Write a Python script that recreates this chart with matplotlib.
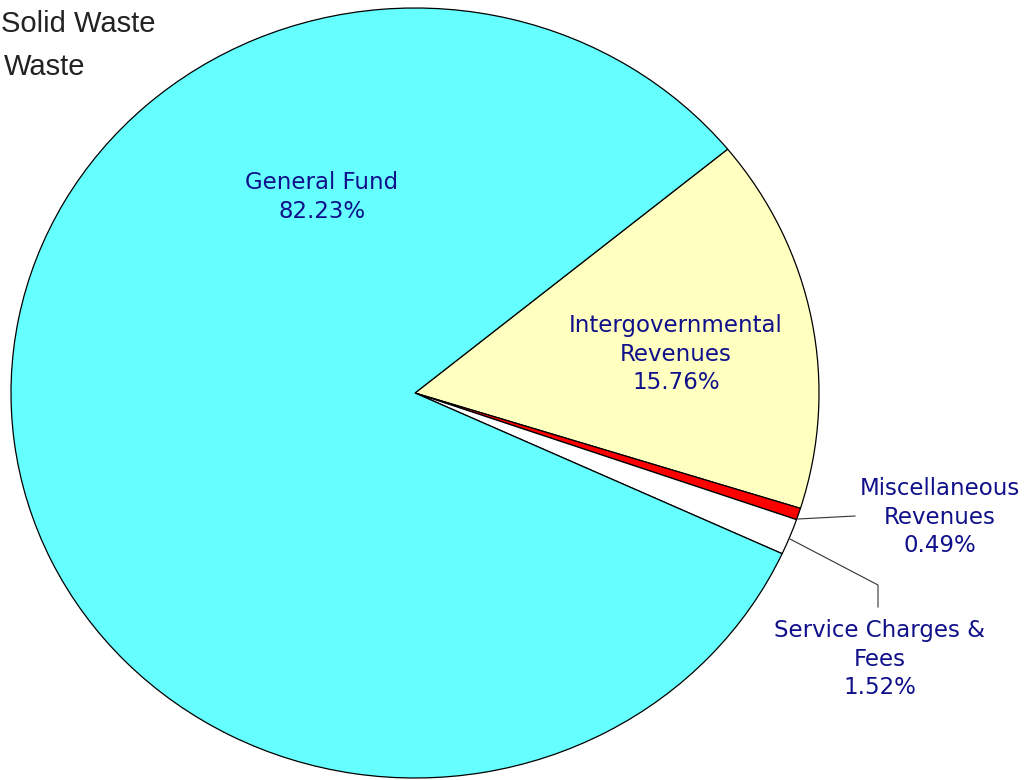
import numpy as np
import matplotlib.pyplot as plt

# revenue sources, in drawing order (clockwise from the top-right edge)
sources = ["Intergovernmental\nRevenues", "Miscellaneous\nRevenues",
           "Service Charges &\nFees", "General Fund"]
shares = [15.76, 0.49, 1.52, 82.23]
colors = ["#FFFFC0", "#FF0000", "#FFFFFF", "#66FFFF"]

# only the visible part of the title block
title_lines = ["Solid Waste", "Waste"]

W, H = 1034, 780
fig = plt.figure(figsize=(W / 100, H / 100), dpi=100)
ax = fig.add_axes([0, 0, 1, 1])

# pie is a bit wider than tall in the original
cx, cy = 415, 393
rx, ry = 404, 385

wedges, _ = ax.pie(shares, colors=colors, startangle=39.3, counterclock=False,
                   radius=1, center=(0, 0), frame=True,
                   wedgeprops=dict(edgecolor="black", linewidth=0.9))
ax.set_xlim(-cx / rx, (W - cx) / rx)
ax.set_ylim((cy - H) / ry, cy / ry)
ax.set_aspect("auto")
ax.axis("off")


def px(x, y):
    # pixel (from top-left) to data coords
    return (x - cx) / rx, (cy - y) / ry


navy = "#10108A"
lab_font = dict(color=navy, fontsize=16.5, family="DejaVu Sans",
                ha="center", va="center", linespacing=1.3)

# label text positions in pixels
label_pos = [(676, 354), (940, 517), (880, 659), (322, 197)]
for name, val, (x, y) in zip(sources, shares, label_pos):
    ax.text(*px(x, y), f"{name}\n{val:.2f}%", **lab_font)

# leader lines for the two thin slices
ml = [px(798, 519), px(855, 516)]
ax.plot([p[0] for p in ml], [p[1] for p in ml], color="#333333", lw=0.8)
sl = [px(790, 539), px(878, 585), px(878, 607)]
ax.plot([p[0] for p in sl], [p[1] for p in sl], color="#333333", lw=0.8)

fig.text(1 / W, 1 - 24 / H, title_lines[0], ha="left", va="center",
         fontsize=21, color="#222222", family="Liberation Sans")
fig.text(4 / W, 1 - 67 / H, title_lines[1], ha="left", va="center",
         fontsize=21, color="#222222", family="Liberation Sans")

fig.savefig("out.png", dpi=100)
